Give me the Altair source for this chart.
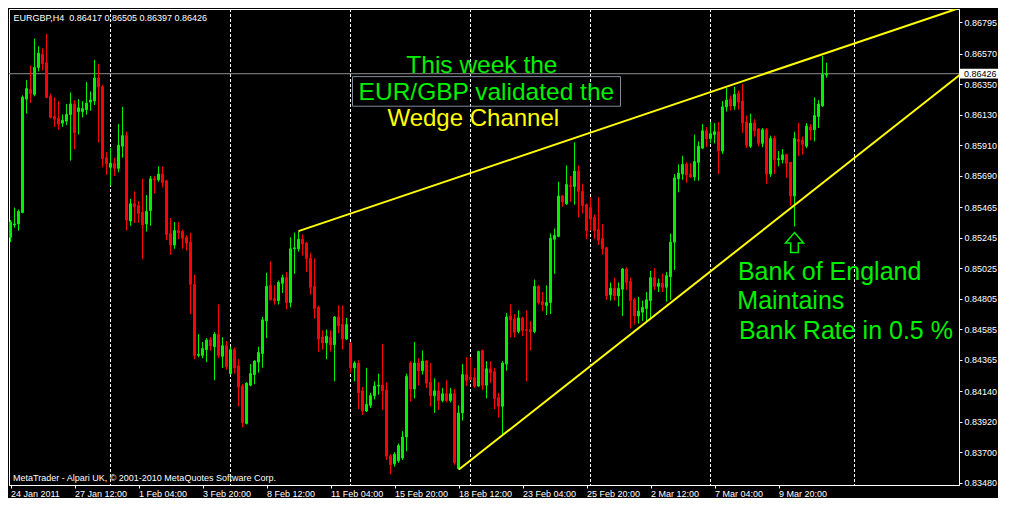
import altair as alt
import pandas as pd

# ---------------- data (EURGBP, H4) ----------------
opens = [
    0.85248, 0.85337, 0.85344, 0.85427, 0.86243, 0.86312, 0.86277, 0.86471, 0.86567, 0.86505,
    0.86263, 0.86118, 0.86104, 0.86070, 0.86084, 0.86132, 0.86208, 0.86153, 0.86153, 0.86167,
    0.86222, 0.86229, 0.86395, 0.86332, 0.85821, 0.85752, 0.85780, 0.85745, 0.85904, 0.85980,
    0.85365, 0.85489, 0.85476, 0.85427, 0.85344, 0.85441, 0.85669, 0.85662, 0.85704, 0.85655,
    0.85275, 0.85192, 0.85296, 0.85289, 0.85248, 0.85213, 0.84909, 0.84398, 0.84398, 0.84439,
    0.84508, 0.84460, 0.84550, 0.84391, 0.84467, 0.84266, 0.84439, 0.84322, 0.84177, 0.83907,
    0.84183, 0.84259, 0.84349, 0.84411, 0.84646, 0.84902, 0.84805, 0.84792, 0.84916, 0.84957,
    0.84778, 0.85165, 0.85165, 0.85234, 0.85206, 0.85096, 0.84895, 0.84743, 0.84529, 0.84487,
    0.84529, 0.84474, 0.84674, 0.84619, 0.84515, 0.84487, 0.84308, 0.84342, 0.84142, 0.83997,
    0.84038, 0.84107, 0.84177, 0.84183, 0.84149, 0.83672, 0.83617, 0.83638, 0.83658, 0.83810,
    0.84342, 0.84156, 0.84342, 0.84287, 0.84356, 0.84204, 0.84107, 0.84142, 0.84073, 0.84121,
    0.84073, 0.84121, 0.83582, 0.83983, 0.84259, 0.84239, 0.84239, 0.84177, 0.84432, 0.84183,
    0.84301, 0.84280, 0.84094, 0.84031, 0.84335, 0.84681, 0.84660, 0.84570, 0.84667, 0.84584,
    0.84584, 0.84570, 0.84895, 0.84785, 0.84757, 0.84778, 0.85234, 0.85255, 0.85545, 0.85489,
    0.85621, 0.85614, 0.85724, 0.85579, 0.85483, 0.85462, 0.85393, 0.85303, 0.85241, 0.85172,
    0.84833, 0.84881, 0.84826, 0.84874, 0.85020, 0.84930, 0.84798, 0.84681, 0.84709, 0.84736,
    0.84792, 0.84957, 0.84895, 0.84916, 0.84888, 0.84964, 0.85213, 0.85669, 0.85704, 0.85773,
    0.85704, 0.85683, 0.85787, 0.85890, 0.86015, 0.85959, 0.85987, 0.86008, 0.85869, 0.86187,
    0.86243, 0.86194, 0.86284, 0.86229, 0.86077, 0.85904, 0.86070, 0.86028, 0.85925, 0.86022,
    0.85704, 0.85959, 0.85807, 0.85807, 0.85842, 0.85787, 0.85545, 0.85952, 0.85946, 0.85904,
    0.86042, 0.86022, 0.86118, 0.86194, 0.86417,
]
highs = [
    0.85372, 0.85462, 0.85448, 0.86270, 0.86381, 0.86484, 0.86678, 0.86623, 0.86609, 0.86712,
    0.86284, 0.86256, 0.86229, 0.86132, 0.86208, 0.86291, 0.86236, 0.86243, 0.86229, 0.86367,
    0.86298, 0.86526, 0.86498, 0.86346, 0.85863, 0.85890, 0.85821, 0.86063, 0.86187, 0.86008,
    0.85524, 0.85579, 0.85510, 0.85669, 0.85552, 0.85690, 0.85690, 0.85759, 0.85759, 0.85662,
    0.85386, 0.85358, 0.85358, 0.85303, 0.85261, 0.85282, 0.84978, 0.84550, 0.84494, 0.84522,
    0.84529, 0.84564, 0.84764, 0.84529, 0.84501, 0.84460, 0.84453, 0.84370, 0.84190, 0.84204,
    0.84335, 0.84363, 0.84460, 0.84674, 0.84992, 0.85075, 0.84902, 0.84937, 0.84978, 0.84999,
    0.85248, 0.85282, 0.85289, 0.85268, 0.85213, 0.85137, 0.85096, 0.84757, 0.84577, 0.84584,
    0.84577, 0.84681, 0.84757, 0.84757, 0.84667, 0.84494, 0.84356, 0.84363, 0.84170, 0.84308,
    0.84128, 0.84211, 0.84266, 0.84481, 0.84204, 0.83686, 0.83700, 0.83762, 0.83852, 0.84266,
    0.84356, 0.84494, 0.84377, 0.84432, 0.84363, 0.84342, 0.84232, 0.84204, 0.84163, 0.84218,
    0.84163, 0.84156, 0.84038, 0.84335, 0.84384, 0.84384, 0.84308, 0.84432, 0.84439, 0.84356,
    0.84356, 0.84308, 0.84128, 0.84356, 0.84702, 0.84764, 0.84695, 0.84722, 0.84674, 0.84722,
    0.84646, 0.84944, 0.84902, 0.84854, 0.84902, 0.85275, 0.85310, 0.85648, 0.85552, 0.85766,
    0.85690, 0.85932, 0.85766, 0.85635, 0.85490, 0.85538, 0.85413, 0.85538, 0.85344, 0.85178,
    0.84923, 0.84957, 0.84923, 0.85027, 0.85033, 0.84957, 0.84812, 0.84819, 0.84792, 0.84854,
    0.85006, 0.85026, 0.84950, 0.84985, 0.84999, 0.85275, 0.85704, 0.85773, 0.85835, 0.85787,
    0.85780, 0.85987, 0.85939, 0.86063, 0.86042, 0.86077, 0.86070, 0.86077, 0.86229, 0.86326,
    0.86270, 0.86332, 0.86305, 0.86353, 0.86125, 0.86139, 0.86098, 0.86035, 0.86035, 0.86035,
    0.85980, 0.85980, 0.85869, 0.85883, 0.85849, 0.85790, 0.86008, 0.86070, 0.85973, 0.86070,
    0.86063, 0.86256, 0.86236, 0.86554, 0.86505,
]
lows = [
    0.85213, 0.85317, 0.85296, 0.85420, 0.86139, 0.86215, 0.86263, 0.86443, 0.86450, 0.86250,
    0.86104, 0.86042, 0.86022, 0.86042, 0.86056, 0.85800, 0.85883, 0.85987, 0.86111, 0.86132,
    0.86160, 0.86201, 0.85932, 0.85752, 0.85697, 0.85621, 0.85690, 0.85717, 0.85821, 0.85296,
    0.85331, 0.85351, 0.85351, 0.85089, 0.85289, 0.85331, 0.85565, 0.85648, 0.85607, 0.85227,
    0.85123, 0.85165, 0.85234, 0.85165, 0.85151, 0.84695, 0.84370, 0.84384, 0.84377, 0.84349,
    0.84432, 0.84218, 0.84377, 0.84308, 0.84294, 0.84259, 0.84266, 0.84031, 0.83879, 0.83900,
    0.84176, 0.84190, 0.84273, 0.84308, 0.84522, 0.84792, 0.84764, 0.84764, 0.84847, 0.84729,
    0.84743, 0.84985, 0.85144, 0.85116, 0.84999, 0.84833, 0.84660, 0.84425, 0.84439, 0.84370,
    0.84425, 0.84211, 0.84557, 0.84439, 0.84508, 0.84273, 0.84211, 0.84011, 0.83969, 0.83990,
    0.84018, 0.84080, 0.84114, 0.84004, 0.83644, 0.83541, 0.83596, 0.83624, 0.83644, 0.83707,
    0.84066, 0.84087, 0.84183, 0.84259, 0.84163, 0.84031, 0.83983, 0.84004, 0.84059, 0.84059,
    0.84059, 0.83610, 0.83575, 0.83928, 0.84177, 0.84218, 0.84163, 0.84170, 0.84149, 0.84087,
    0.84197, 0.84011, 0.83949, 0.83831, 0.84287, 0.84529, 0.84529, 0.84557, 0.84536, 0.84211,
    0.84432, 0.84557, 0.84764, 0.84716, 0.84688, 0.84695, 0.84985, 0.85248, 0.85469, 0.85482,
    0.85503, 0.85483, 0.85393, 0.85420, 0.85234, 0.85296, 0.85234, 0.85192, 0.85123, 0.84798,
    0.84792, 0.84792, 0.84750, 0.84681, 0.84868, 0.84591, 0.84619, 0.84626, 0.84646, 0.84633,
    0.84667, 0.84868, 0.84854, 0.84854, 0.84785, 0.84798, 0.85013, 0.85572, 0.85662, 0.85641,
    0.85676, 0.85655, 0.85655, 0.85883, 0.85897, 0.85925, 0.85925, 0.85704, 0.85849, 0.86153,
    0.86160, 0.86167, 0.86167, 0.86001, 0.85890, 0.85890, 0.85973, 0.85904, 0.85897, 0.85635,
    0.85683, 0.85704, 0.85759, 0.85780, 0.85676, 0.85476, 0.85324, 0.85835, 0.85842, 0.85890,
    0.85946, 0.85939, 0.86035, 0.86187, 0.86397,
]
closes = [
    0.85358, 0.85344, 0.85434, 0.86256, 0.86319, 0.86284, 0.86471, 0.86574, 0.86498, 0.86256,
    0.86111, 0.86098, 0.86063, 0.86091, 0.86132, 0.86208, 0.86001, 0.86180, 0.86174, 0.86215,
    0.86236, 0.86395, 0.86332, 0.85814, 0.85780, 0.85780, 0.85745, 0.85911, 0.85980, 0.85372,
    0.85489, 0.85469, 0.85420, 0.85337, 0.85434, 0.85669, 0.85662, 0.85704, 0.85641, 0.85268,
    0.85192, 0.85296, 0.85282, 0.85241, 0.85206, 0.84909, 0.84398, 0.84405, 0.84446, 0.84508,
    0.84467, 0.84550, 0.84398, 0.84467, 0.84315, 0.84439, 0.84308, 0.84170, 0.83914, 0.84197,
    0.84266, 0.84356, 0.84418, 0.84653, 0.84895, 0.84798, 0.84792, 0.84923, 0.84957, 0.84778,
    0.85165, 0.85172, 0.85234, 0.85199, 0.85096, 0.84888, 0.84736, 0.84515, 0.84487, 0.84536,
    0.84474, 0.84674, 0.84612, 0.84515, 0.84619, 0.84308, 0.84342, 0.84128, 0.83997, 0.84045,
    0.84107, 0.84177, 0.84183, 0.84142, 0.83672, 0.83610, 0.83686, 0.83748, 0.83810, 0.84246,
    0.84156, 0.84342, 0.84287, 0.84356, 0.84197, 0.84107, 0.84142, 0.84073, 0.84121, 0.84073,
    0.84121, 0.83624, 0.83983, 0.84259, 0.84218, 0.84225, 0.84177, 0.84425, 0.84183, 0.84301,
    0.84273, 0.84087, 0.84031, 0.84342, 0.84674, 0.84653, 0.84564, 0.84667, 0.84577, 0.84577,
    0.84570, 0.84895, 0.84778, 0.84764, 0.84778, 0.85241, 0.85261, 0.85545, 0.85503, 0.85628,
    0.85614, 0.85724, 0.85579, 0.85476, 0.85296, 0.85379, 0.85296, 0.85227, 0.85165, 0.84826,
    0.84881, 0.84826, 0.84881, 0.85020, 0.84923, 0.84792, 0.84681, 0.84716, 0.84743, 0.84798,
    0.84957, 0.84895, 0.84916, 0.84888, 0.84971, 0.85213, 0.85676, 0.85711, 0.85773, 0.85697,
    0.85683, 0.85793, 0.85904, 0.86015, 0.85959, 0.85994, 0.86008, 0.85869, 0.86187, 0.86236,
    0.86194, 0.86277, 0.86222, 0.86070, 0.85911, 0.86070, 0.86015, 0.85925, 0.86022, 0.85704,
    0.85959, 0.85807, 0.85814, 0.85842, 0.85780, 0.85545, 0.85959, 0.85939, 0.85918, 0.86049,
    0.86022, 0.86125, 0.86208, 0.86422, 0.86426,
]

# time axis labels (every 16 H4 bars, bar 0 = 24 Jan 2011 20:00)
date_bars = [0, 16, 32, 48, 64, 80, 96, 112, 128, 144, 160, 176, 192]
date_labels = ["24 Jan 2011", "27 Jan 12:00", "1 Feb 04:00", "3 Feb 20:00", "8 Feb 12:00",
               "11 Feb 04:00", "15 Feb 20:00", "18 Feb 12:00", "23 Feb 04:00", "25 Feb 20:00",
               "2 Mar 12:00", "7 Mar 04:00", "9 Mar 20:00"]
price_ticks = [0.86795, 0.86570, 0.86350, 0.86130, 0.85910, 0.85690, 0.85465, 0.85245,
               0.85025, 0.84805, 0.84585, 0.84365, 0.84140, 0.83920, 0.83700, 0.83480]
week_separators = [25, 55, 85, 115, 145, 175, 211]
last_price = 0.86426

# wedge trend lines (bar index, price)
wedge_upper_bars = [72, 236.5]
wedge_upper_prices = [0.85292, 0.86892]
wedge_lower_bars = [112.1, 242.0]
wedge_lower_prices = [0.83575, 0.86523]

# annotations
center_green_bars = [117.85, 118.97]
center_green_prices = [0.86432, 0.86238]
center_green_texts = ["This week the", "EUR/GBP validated the"]
yellow_bars = [115.7]
yellow_prices = [0.86046]
yellow_texts = ["Wedge Channel"]
boe_bars = [181.85, 181.7, 182.1]
boe_prices = [0.84942, 0.84734, 0.84515]
boe_texts = ["Bank of England", "Maintains", "Bank Rate in 0.5 %"]
frame_bars = [85.5, 152.5]
frame_prices = [0.86405, 0.86192]
arrow_bar = [196]
arrow_price = [0.85210]
header_text = "EURGBP,H4 \u00a00.86417 0.86505 0.86397 0.86426"
footer_text = "MetaTrader - Alpari UK, \u00a9 2001-2010 MetaQuotes Software Corp."

# ---------------- chart ----------------
GREEN = "#00f000"
RED = "#ff0000"
YELLOW = "#ffff00"
FONT = "Liberation Sans"
W, H = 950, 476

n = len(opens)
df = pd.DataFrame({"bar": list(range(n)), "open": opens, "high": highs,
                   "low": lows, "close": closes})
df["dir"] = ["up" if c >= o else "down" for o, c in zip(opens, closes)]
df["xl"] = df["bar"] - 0.25
df["xr"] = df["bar"] + 0.25

x_scale = alt.Scale(domain=[-0.375, -0.375 + W / 4], nice=False, zero=False)
y_scale = alt.Scale(domain=[0.83464, 0.86892], nice=False, zero=False)

label_expr = ("[" + ",".join("'" + s + "'" for s in date_labels) + "][indexof(["
              + ",".join(str(b) for b in date_bars) + "], datum.value)]")

x_axis = alt.Axis(values=date_bars, labelExpr=label_expr, title=None, grid=False,
                  orient="bottom", tickSize=3, tickColor="white", domainColor="white",
                  labelColor="white", labelFont=FONT, labelFontSize=9, labelAlign="left",
                  labelBaseline="top", labelPadding=1, labelOverlap=False,
                  labelFlush=False)
y_axis = alt.Axis(values=price_ticks, format=".5f", title=None, grid=False, orient="right",
                  tickSize=3, tickColor="white", domainColor="white", labelColor="white",
                  labelFont=FONT, labelFontSize=9, labelPadding=2, labelOverlap=False,
                  labelFlush=False)


def X(f):
    return alt.X(f"{f}:Q", scale=x_scale, axis=x_axis)


def Y(f):
    return alt.Y(f"{f}:Q", scale=y_scale, axis=y_axis)


dir_scale = alt.Scale(domain=["up", "down"], range=[GREEN, RED])

seps = alt.Chart(pd.DataFrame({"bar": week_separators})).mark_rule(
    color="white", strokeWidth=1, strokeDash=[3, 2]).encode(x=X("bar"))

last_df = pd.DataFrame({"price": [last_price], "hi": [last_price + 0.00036],
                        "lo": [last_price - 0.00034]})
last_line = alt.Chart(last_df).mark_rule(color="#8f8f8f", strokeWidth=1).encode(y=Y("price"))

wicks = alt.Chart(df).mark_rule(strokeWidth=1).encode(
    x=X("bar"), y=Y("low"), y2="high",
    color=alt.Color("dir:N", scale=dir_scale, legend=None))
bodies = alt.Chart(df).mark_rect(strokeWidth=1).encode(
    x=X("xl"), x2="xr", y=Y("open"), y2="close",
    fill=alt.Fill("dir:N", scale=dir_scale, legend=None),
    stroke=alt.Stroke("dir:N", scale=dir_scale, legend=None))

wedge_df = pd.DataFrame({
    "bar": wedge_upper_bars + wedge_lower_bars,
    "price": wedge_upper_prices + wedge_lower_prices,
    "line": ["upper"] * len(wedge_upper_bars) + ["lower"] * len(wedge_lower_bars)})
wedge = alt.Chart(wedge_df).mark_line(color=YELLOW, strokeWidth=2, clip=True).encode(
    x=X("bar"), y=Y("price"), detail="line:N")

ARROW = "M0,-1L0.9,0.05L0.38,0.05L0.38,1L-0.38,1L-0.38,0.05L-0.9,0.05Z"
arrow = alt.Chart(pd.DataFrame({"bar": arrow_bar, "price": arrow_price})).mark_point(
    shape=ARROW, filled=False, color=GREEN, strokeWidth=1.5, size=400, opacity=1).encode(
    x=X("bar"), y=Y("price"))

frame = alt.Chart(pd.DataFrame({"x1": [frame_bars[0]], "x2": [frame_bars[1]],
                                "p1": [frame_prices[0]], "p2": [frame_prices[1]]})).mark_rect(
    filled=False, color="#7f8b98", strokeWidth=1).encode(x=X("x1"), x2="x2", y=Y("p1"), y2="p2")

t_center = alt.Chart(pd.DataFrame({"bar": center_green_bars, "price": center_green_prices,
                                   "label": center_green_texts})).mark_text(
    align="center", baseline="alphabetic", font=FONT, fontSize=24.5, color=GREEN).encode(
    x=X("bar"), y=Y("price"), text="label:N")
t_yellow = alt.Chart(pd.DataFrame({"bar": yellow_bars, "price": yellow_prices,
                                   "label": yellow_texts})).mark_text(
    align="center", baseline="alphabetic", font=FONT, fontSize=24, color=YELLOW).encode(
    x=X("bar"), y=Y("price"), text="label:N")
t_boe = alt.Chart(pd.DataFrame({"bar": boe_bars, "price": boe_prices,
                                "label": boe_texts})).mark_text(
    align="left", baseline="alphabetic", font=FONT, fontSize=25, color=GREEN).encode(
    x=X("bar"), y=Y("price"), text="label:N")

header = alt.Chart(pd.DataFrame({"label": [header_text]})).mark_text(
    align="left", baseline="alphabetic", font=FONT, fontSize=9, color="white").encode(
    x=alt.value(4.5), y=alt.value(12), text="label:N")
footer = alt.Chart(pd.DataFrame({"label": [footer_text]})).mark_text(
    align="left", baseline="alphabetic", font=FONT, fontSize=9, color="white").encode(
    x=alt.value(4), y=alt.value(H - 4.5), text="label:N")

price_box = alt.Chart(last_df).mark_rect(color="white").encode(
    x=alt.value(W + 1), x2=alt.value(W + 39), y=Y("hi"), y2="lo")
price_txt = alt.Chart(last_df).mark_text(
    align="left", baseline="middle", font=FONT, fontSize=9, color="black").encode(
    x=alt.value(W + 5), y=Y("price"), text=alt.Text("price:Q", format=".5f"))

chart = alt.layer(
    seps, last_line, wicks, bodies, wedge, arrow, frame, t_center, t_yellow, t_boe,
    header, footer, price_box, price_txt
).properties(
    width=W, height=H, background="black",
    padding={"left": 0, "top": 0, "right": 0, "bottom": 0}
).configure_view(stroke="white", strokeWidth=1, fill="black")

chart.save("out.html", embed_options={"renderer": "svg", "actions": False})
